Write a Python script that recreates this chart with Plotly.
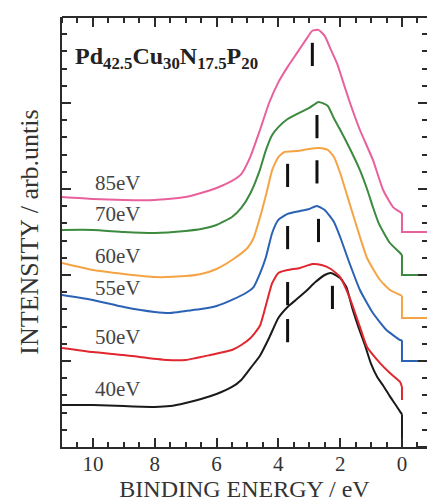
import numpy as np
import plotly.graph_objects as go

# Valence-band photoemission spectra, binding energy (eV) vs intensity (arb. units)
labels = ["40eV", "50eV", "55eV", "60eV", "70eV", "85eV"]
colors = ["#1a1a1a", "#e0262e", "#2a62b4", "#f5a445", "#3b8a3e", "#e8609c"]
offsets = [0.0, 2.5, 5.0, 7.5, 10.0, 12.5]

ev_40 = [11, 10, 9, 8, 7.5, 7, 6.5, 6, 5.5, 5.2, 4.9, 4.6, 4.3, 4.0, 3.7, 3.4, 3.1,
         2.8, 2.5, 2.3, 2.0, 1.8, 1.6, 1.4, 1.2, 1.0, 0.8, 0.6, 0.4, 0.2, 0.05, 0, 0]
int_40 = [2.44, 2.44, 2.38, 2.33, 2.38, 2.56, 2.79, 3.08, 3.49, 3.90, 4.59, 5.29, 6.34,
          7.50, 8.14, 8.60, 9.07, 9.59, 10.0, 10.12, 9.83, 9.30, 8.02, 6.92, 5.93, 4.83,
          4.07, 3.55, 2.97, 2.44, 2.03, 1.9, 0]

ev_50 = [11, 10, 9, 8.5, 7.6, 7, 6.2, 5.5, 5.2, 4.9, 4.6, 4.4, 4.2, 4.0, 3.7, 3.3, 2.9,
         2.6, 2.3, 2.0, 1.7, 1.36, 1.13, 0.71, 0.39, 0.06, 0, 0]
int_50 = [3.26, 3.02, 2.85, 2.73, 2.56, 2.56, 2.85, 3.14, 3.43, 3.84, 4.53, 5.76, 7.03,
          7.62, 7.79, 7.91, 8.14, 8.08, 7.85, 7.38, 6.22, 4.48, 3.31, 2.38, 1.80, 1.28,
          0.99, 0.23]

ev_55 = [11, 10, 9, 8, 7.5, 7, 6.5, 6, 5.5, 5.0, 4.8, 4.6, 4.4, 4.2, 4.0, 3.7, 3.3, 3.0,
         2.75, 2.5, 2.2, 2.0, 1.7, 1.36, 0.94, 0.5, 0.06, 0, 0, -0.81]
int_55 = [3.84, 3.55, 3.14, 2.85, 2.79, 2.91, 3.02, 3.20, 3.55, 4.01, 4.30, 5.06, 6.05,
          7.44, 8.20, 8.55, 8.72, 8.84, 9.01, 8.78, 8.08, 7.21, 5.70, 4.13, 2.79, 1.80,
          1.22, 1.2, 0, 0]

ev_60 = [11, 10, 9, 8, 7, 6.5, 6, 5.5, 5.0, 4.8, 4.6, 4.4, 4.2, 4.0, 3.8, 3.4, 3.0, 2.7,
         2.4, 2.2, 2.0, 1.7, 1.45, 1.13, 0.71, 0.39, 0.06, 0, 0, -0.81]
int_60 = [3.20, 2.79, 2.56, 2.38, 2.44, 2.56, 2.85, 3.37, 4.07, 4.65, 5.81, 7.15, 8.60,
          9.36, 9.65, 9.71, 9.83, 9.88, 9.77, 9.36, 8.43, 6.69, 5.23, 3.49, 2.21, 1.63,
          1.34, 1.28, 0, 0]

ev_70 = [11, 10, 9, 8, 7, 6.5, 6, 5.5, 5.2, 4.9, 4.6, 4.4, 4.2, 4.0, 3.7, 3.4, 3.0, 2.7,
         2.4, 2.2, 2.0, 1.7, 1.36, 1.13, 0.94, 0.75, 0.39, 0.06, 0, 0, -0.81]
int_70 = [2.62, 2.62, 2.50, 2.44, 2.56, 2.67, 2.91, 3.37, 3.90, 4.77, 6.10, 7.27, 8.14,
          8.60, 9.07, 9.36, 9.71, 10.06, 9.83, 9.1, 8.45, 7.4, 6.1, 5.0, 3.95, 3.0,
          1.86, 1.28, 1.16, 0, 0]

ev_85 = [11, 10, 9, 8, 7, 6.5, 6, 5.5, 5.2, 4.9, 4.6, 4.3, 4.0, 3.7, 3.4, 3.1, 2.9, 2.7,
         2.5, 2.3, 2.1, 1.9, 1.68, 1.36, 0.94, 0.61, 0.29, 0.06, 0, 0, -0.81]
int_85 = [2.03, 1.92, 1.86, 1.86, 2.03, 2.27, 2.56, 2.97, 3.37, 4.4, 5.9, 7.5, 8.7, 9.6,
          10.4, 11.2, 11.7, 11.75, 11.4, 10.6, 9.8, 8.7, 7.5, 5.93, 4.19, 2.44, 1.45,
          1.16, 1.1, 0, 0]

# Peak positions (eV) marked on each spectrum
peaks_40 = [3.7, 2.25]
peaks_50 = [3.7]
peaks_55 = [3.7, 2.7]
peaks_60 = [3.7, 2.75]
peaks_70 = [2.75]
peaks_85 = [2.9]

energies = [ev_40, ev_50, ev_55, ev_60, ev_70, ev_85]
intensities = [int_40, int_50, int_55, int_60, int_70, int_85]
peaks = [peaks_40, peaks_50, peaks_55, peaks_60, peaks_70, peaks_85]

SERIF = "Liberation Serif, Times New Roman, serif"
AXIS_COL = "#2b2b2b"


def value_at(ev, inten, e):
    """Spectrum intensity at energy e, ignoring the Fermi-edge step."""
    ev_arr = np.array(ev, dtype=float)
    in_arr = np.array(inten, dtype=float)
    mask = ev_arr > 0.01
    return float(np.interp(e, ev_arr[mask][::-1], in_arr[mask][::-1]))


fig = go.Figure()

for lab, col, off, ev, inten in zip(labels, colors, offsets, energies, intensities):
    y = np.array(inten, dtype=float) + off
    ev = list(ev)
    edge = ev.index(0)  # first point at the Fermi level
    # smooth valence band up to the Fermi level
    fig.add_trace(go.Scatter(x=ev[:edge + 1], y=y[:edge + 1], mode="lines", name=lab,
                             line=dict(color=col, width=2, shape="spline", smoothing=0.5),
                             hoverinfo="skip"))
    # sharp step at the Fermi level and the flat tail beyond it
    fig.add_trace(go.Scatter(x=ev[edge:], y=y[edge:], mode="lines", name=lab,
                             line=dict(color=col, width=2),
                             hoverinfo="skip", showlegend=False))

# short vertical dashes just below each marked peak (drawn against the top/right
# tick axes, which share the main axis ranges)
dash_gap, dash_len = 0.7, 1.35
dx, dy = [], []
for off, ev, inten, pk in zip(offsets, energies, intensities, peaks):
    for p in pk:
        v = value_at(ev, inten, p) + off
        dx += [p, p, None]
        dy += [v - dash_gap, v - dash_gap - dash_len, None]
fig.add_trace(go.Scatter(x=dx, y=dy, xaxis="x2", yaxis="y2", mode="lines",
                         line=dict(color="#111", width=3),
                         hoverinfo="skip", showlegend=False))

# photon-energy labels above the flat part of each spectrum
label_ev = 9.2
for lab, off, ev, inten in zip(labels, offsets, energies, intensities):
    v = value_at(ev, inten, label_ev) + off
    fig.add_annotation(x=10.0, y=v + 1.0, text=lab, showarrow=False,
                       xanchor="left", yanchor="middle",
                       font=dict(family=SERIF, size=21, color="#444"))

fig.add_annotation(
    xref="paper", yref="paper", x=0.03, y=0.945, xanchor="left", yanchor="top",
    text="<b>Pd<sub>42.5</sub>Cu<sub>30</sub>N<sub>17.5</sub>P<sub>20</sub></b>",
    showarrow=False, font=dict(family=SERIF, size=24, color="#222"))

tick_in = dict(ticks="inside", ticklen=9, tickwidth=2, tickcolor=AXIS_COL)
tick_out = dict(ticks="outside", ticklen=9, tickwidth=2, tickcolor=AXIS_COL)
minor_x_in = dict(dtick=0.5, ticks="inside", ticklen=5, tickwidth=2, tickcolor=AXIS_COL)
minor_y_in = dict(dtick=1, ticks="inside", ticklen=5, tickwidth=2, tickcolor=AXIS_COL)
minor_x_out = dict(dtick=0.5, ticks="outside", ticklen=5, tickwidth=2, tickcolor=AXIS_COL)
minor_y_out = dict(dtick=1, ticks="outside", ticklen=5, tickwidth=2, tickcolor=AXIS_COL)
x_range = [11, -0.81]
y_range = [0, 25]

fig.update_layout(
    width=427, height=502,
    margin=dict(l=62, r=0, t=17, b=55),
    paper_bgcolor="white", plot_bgcolor="rgba(0,0,0,0)",
    showlegend=False,
    xaxis=dict(
        range=x_range, autorange=False,
        tickmode="array", tickvals=[10, 8, 6, 4, 2, 0], minor=minor_x_in,
        showline=True, linewidth=2, linecolor=AXIS_COL,
        showgrid=False, zeroline=False,
        tickfont=dict(family=SERIF, size=21, color="#333"),
        ticklabelstandoff=-3,
        title=dict(text="BINDING ENERGY / eV", standoff=4,
                   font=dict(family=SERIF, size=24, color="#333")),
        **tick_in,
    ),
    # frame along the top edge: a bottom-sided axis placed at the top, so its
    # outward ticks point down into the plot
    xaxis2=dict(
        range=x_range, autorange=False, overlaying="x", side="bottom",
        anchor="free", position=1.0,
        tickmode="array", tickvals=[10, 8, 6, 4, 2, 0], minor=minor_x_out,
        showline=True, linewidth=2, linecolor=AXIS_COL,
        showticklabels=False, showgrid=False, zeroline=False,
        **tick_out,
    ),
    yaxis=dict(
        range=y_range, autorange=False,
        tickmode="linear", tick0=0, dtick=5, minor=minor_y_in,
        showline=True, linewidth=2, linecolor=AXIS_COL,
        showticklabels=False, showgrid=False, zeroline=False,
        title=dict(text="INTENSITY / arb.untis", standoff=14,
                   font=dict(family=SERIF, size=26, color="#333")),
        **tick_in,
    ),
    # ticks along the right edge: a left-sided axis placed at the right edge
    yaxis2=dict(
        range=y_range, autorange=False, overlaying="y", side="left",
        anchor="free", position=1.0,
        tickmode="linear", tick0=0, dtick=5, minor=minor_y_out,
        showline=False, showticklabels=False, showgrid=False, zeroline=False,
        **tick_out,
    ),
)

fig.write_html("out.html")
